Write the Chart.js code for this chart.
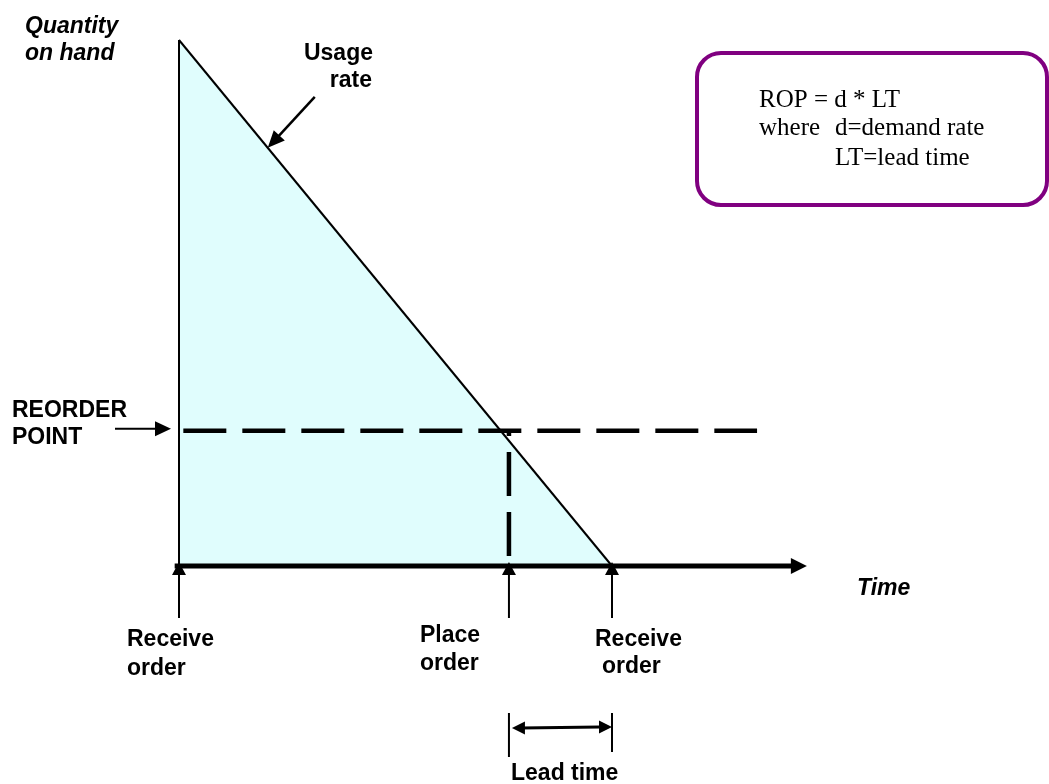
<!DOCTYPE html>
<html>
<head>
<meta charset="utf-8">
<script src="https://cdn.jsdelivr.net/npm/chart.js@4/dist/chart.umd.min.js"></script>
<style>
  html, body { margin: 0; padding: 0; background: #fff; }
  canvas { display: block; }
</style>
</head>
<body>
<canvas id="rop" width="1049" height="784"></canvas>
<script>
// inventory drawdown (time units, quantity %)
const usageTime = [0, 10];
const usageQty = [100, 0];
const reorderLevel = 25.7;
const placeOrderTime = 7.62;
const receiveTimes = [0, 10];
const timeAxisEnd = 14.5;
const ropLineEnd = 13.35;

const BOLD = "bold 23px 'Liberation Sans', Arial, sans-serif";
const BOLD_IT = "italic bold 23px 'Liberation Sans', Arial, sans-serif";
const SERIF = "25px 'Liberation Serif', 'Times New Roman', serif";

const pts = (xs, ys) => xs.map((x, i) => ({ x: x, y: ys[i] }));

function arrowHead(c, tx, ty, fx, fy, len, half) {
    const a = Math.atan2(ty - fy, tx - fx);
    c.beginPath();
    c.moveTo(tx, ty);
    c.lineTo(tx - len * Math.cos(a) + half * Math.sin(a), ty - len * Math.sin(a) - half * Math.cos(a));
    c.lineTo(tx - len * Math.cos(a) - half * Math.sin(a), ty - len * Math.sin(a) + half * Math.cos(a));
    c.closePath();
    c.fill();
}

function arrow(c, fx, fy, tx, ty, w, len, half) {
    const a = Math.atan2(ty - fy, tx - fx);
    c.lineWidth = w;
    c.beginPath();
    c.moveTo(fx, fy);
    c.lineTo(tx - (len - 2) * Math.cos(a), ty - (len - 2) * Math.sin(a));
    c.stroke();
    arrowHead(c, tx, ty, fx, fy, len, half);
}

const notes = {
    id: "notes",
    afterDatasetsDraw(chart) {
        const c = chart.ctx;
        const xs = chart.scales.x, ys = chart.scales.y;
        const y0 = ys.getPixelForValue(0);
        c.save();
        c.fillStyle = "#000";
        c.strokeStyle = "#000";

        // time axis arrow head
        arrowHead(c, xs.getPixelForValue(timeAxisEnd), y0, 0, y0, 16, 8);

        // upward arrows under the axis
        for (const t of [receiveTimes[0], placeOrderTime, receiveTimes[1]]) {
            const px = xs.getPixelForValue(t);
            arrow(c, px, y0 + 52, px, y0 - 4, 2, 13, 7);
        }

        // reorder point pointer
        const ry = ys.getPixelForValue(reorderLevel);
        arrow(c, 115, ry - 2, 171, ry - 2, 2, 16, 7.5);

        // usage rate pointer, tip on the usage line
        const ut = 2.05;
        const uq = usageQty[0] + (usageQty[1] - usageQty[0]) * (ut - usageTime[0]) / (usageTime[1] - usageTime[0]);
        const ux = xs.getPixelForValue(ut), uy = ys.getPixelForValue(uq);
        arrow(c, ux + 47, uy - 51, ux, uy, 2.5, 17, 7.5);

        // lead time bracket
        const lx1 = xs.getPixelForValue(placeOrderTime), lx2 = xs.getPixelForValue(receiveTimes[1]);
        c.lineWidth = 2;
        c.beginPath();
        c.moveTo(lx1, 713); c.lineTo(lx1, 757);
        c.moveTo(lx2, 713); c.lineTo(lx2, 752);
        c.stroke();
        c.lineWidth = 3;
        c.beginPath();
        c.moveTo(lx1 + 12, 728); c.lineTo(lx2 - 12, 727);
        c.stroke();
        arrowHead(c, lx1 + 3, 728, lx2, 728, 13, 6.5);
        arrowHead(c, lx2, 727, lx1, 727, 13, 6.5);

        // formula box
        c.strokeStyle = "#800080";
        c.lineWidth = 4;
        c.beginPath();
        c.roundRect(697, 53, 350, 152, 24);
        c.stroke();

        c.fillStyle = "#000";
        c.textBaseline = "alphabetic";
        c.font = SERIF;
        c.fillText("ROP = d * LT", 759, 107);
        c.fillText("where", 759, 135);
        c.fillText("d=demand rate", 835, 135);
        c.fillText("LT=lead time", 835, 165);

        c.font = BOLD_IT;
        c.fillText("Quantity", 25, 33);
        c.fillText("on hand", 25, 60);
        c.fillText("Time", 857, 595);

        c.font = BOLD;
        c.textAlign = "right";
        c.fillText("Usage", 373, 60);
        c.fillText("rate", 372, 87);
        c.textAlign = "left";
        c.fillText("REORDER", 12, 417);
        c.fillText("POINT", 12, 444);
        c.fillText("Receive", 127, 646);
        c.fillText("order", 127, 675);
        c.fillText("Place", 420, 642);
        c.fillText("order", 420, 670);
        c.fillText("Receive", 595, 646);
        c.fillText("order", 602, 673);
        c.fillText("Lead time", 511, 780);
        c.restore();
    }
};

new Chart(document.getElementById("rop"), {
    type: "line",
    data: {
        datasets: [
            {
                label: "reorder point",
                data: pts([0.1, ropLineEnd], [reorderLevel, reorderLevel]),
                borderColor: "#000",
                borderWidth: 4.5,
                borderDash: [43, 16],
                borderCapStyle: "butt",
                clip: false
            },
            {
                label: "place order",
                data: pts([placeOrderTime, placeOrderTime], [1.9, reorderLevel]),
                borderColor: "#000",
                borderWidth: 4.5,
                borderDash: [44, 16],
                borderCapStyle: "butt",
                clip: false
            },
            {
                label: "time axis",
                data: pts([-0.1, timeAxisEnd - 0.3], [0, 0]),
                borderColor: "#000",
                borderWidth: 5,
                clip: false
            },
            {
                label: "quantity axis",
                data: pts([0, 0], [0, 100]),
                borderColor: "#000",
                borderWidth: 2,
                clip: false
            },
            {
                label: "usage",
                data: pts(usageTime, usageQty),
                borderColor: "#000",
                borderWidth: 2,
                backgroundColor: "rgb(224, 253, 253)",
                fill: "origin",
                clip: false
            }
        ]
    },
    options: {
        responsive: false,
        animation: false,
        events: [],
        layout: { padding: { left: 179, right: 4, top: 40, bottom: 218 } },
        elements: { point: { radius: 0 }, line: { tension: 0 } },
        plugins: { legend: { display: false }, tooltip: { enabled: false } },
        scales: {
            x: { type: "linear", min: 0, max: 20, display: false },
            y: { type: "linear", min: 0, max: 100, display: false }
        }
    },
    plugins: [notes]
});
</script>
</body>
</html>
